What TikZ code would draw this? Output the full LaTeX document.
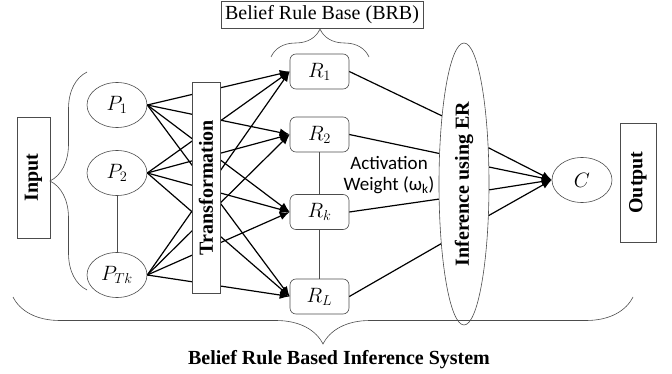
\documentclass[tikz,border=0pt]{standalone}
\usepackage{fontspec}
\setmainfont{Liberation Serif}
\newfontfamily\actfont{Carlito}
\usetikzlibrary{shapes.geometric,arrows.meta,decorations.pathreplacing}
\begin{document}
\begin{tikzpicture}[x=1pt,y=-1pt,
  thinline/.style={draw=black!70, line width=0.6pt},
  pnode/.style={ellipse, thinline, minimum width=60pt, minimum height=45pt, inner sep=0pt, font=\fontsize{20.74}{22}\selectfont},
  rnode/.style={rectangle, rounded corners=6pt, thinline, minimum width=59pt, minimum height=35pt, inner sep=0pt, font=\fontsize{20.74}{22}\selectfont},
  lbox/.style={rectangle, thinline, fill=white, inner sep=0pt, font=\fontsize{20}{22}\selectfont\bfseries},
  conn/.style={line width=1.2pt, black},
  arr/.style={conn, -{Latex[length=10pt,width=8pt]}},
  brc/.style={thinline, decorate, decoration={brace, amplitude=#1}},
]
\useasboundingbox (0,0) rectangle (672,374);

% input nodes
\node[pnode] (P1) at (117,105) {$P_1$};
\node[pnode] (P2) at (117,173) {$P_2$};
\node[pnode] (P3) at (117,275) {$P_{Tk}$};
% rule nodes
\node[rnode] (R1) at (319.5,71.5) {$R_1$};
\node[rnode] (R2) at (319.5,134.5) {$R_2$};
\node[rnode] (R3) at (319.5,212) {$R_k$};
\node[rnode] (R4) at (319.5,296.5) {$R_L$};

\draw[thinline] (P2) -- (P3);
\draw[thinline] (R2) -- (R3);
\draw[thinline] (R3) -- (R4);

\foreach \p in {P1,P2,P3}
  \foreach \r in {R1,R2,R3,R4}
    \draw[arr] (\p.east) -- (\r.west);

\node[lbox, draw, rotate=90, minimum width=211pt, minimum height=28pt] (T) at (206,187.5) {Transformation};
\node[lbox, draw, rotate=90, minimum width=121pt, minimum height=33pt] (In) at (33.5,177.5) {Input};
\node[lbox, draw, rotate=90, minimum width=119pt, minimum height=36pt] (Out) at (638,182.5) {Output};
\node[rectangle, thinline, minimum width=202pt, minimum height=27pt, inner sep=0pt, font=\fontsize{20}{22}\selectfont] (B) at (322,14.5) {Belief Rule Base (BRB)};

\node[ellipse, thinline, fill=white, minimum width=50pt, minimum height=282pt, inner sep=0pt] (E) at (464,184) {\rotatebox{90}{\fontsize{20}{22}\selectfont\bfseries Inference using ER}};

\draw[conn] (R1.east) -- (E.108.9);
\draw[conn] (R2.east) -- (E.129.1);
\draw[conn] (R3.east) -- (E.211);
\draw[conn] (R4.east) -- (E.249.4);

\node[pnode] (C) at (582,180) {$C$};
\draw[arr] (E.56.9) -- (C.west);
\draw[arr] (E.34.4) -- (C.west);
\draw[arr] (E.-13.5) -- (C.west);
\draw[arr] (E.-52.8) -- (C.west);

\node[font=\actfont\fontsize{19}{21}\selectfont, align=center] (AW) at (389,175) {Activation\\Weight (ω\textsubscript{k})};

% braces
\coordinate (bs) at (13,297);
\coordinate (be) at (633,297);
\draw[brc=47] (be) -- (bs);
\coordinate (ls) at (87,290);
\coordinate (le) at (87,72);
\draw[brc=37] (ls) -- (le);
\coordinate (ts) at (271,57);
\coordinate (te) at (369,57);
\draw[brc=28] (ts) -- (te);

\node[font=\fontsize{20}{22}\selectfont\bfseries, anchor=base, inner sep=0pt] (sys) at (339,364) {Belief Rule Based Inference System};
\end{tikzpicture}
\end{document}
